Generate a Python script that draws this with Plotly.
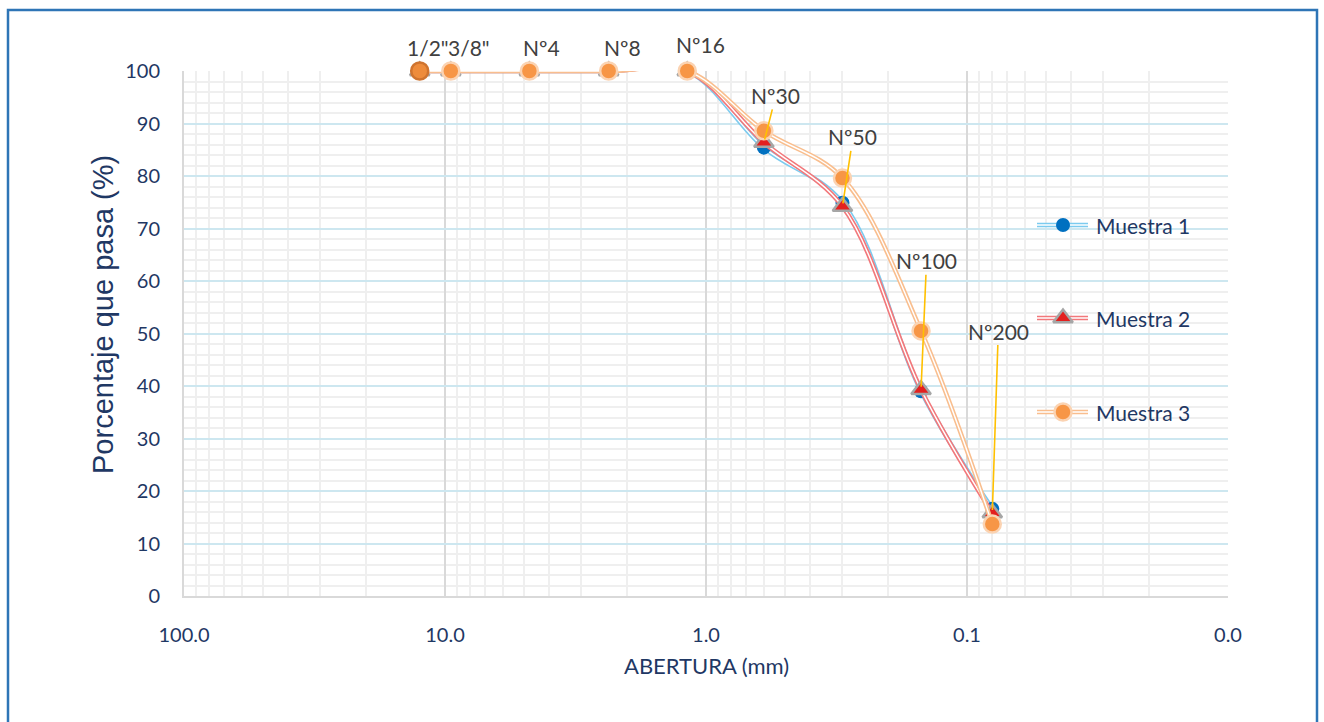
import numpy as np
import plotly.graph_objects as go

# Sieve openings (mm) and their names
sizes = [12.5, 9.5, 4.75, 2.36, 1.18, 0.6, 0.3, 0.15, 0.08]
sieves = ['1/2"', '3/8"', "Nº4", "Nº8", "Nº16", "Nº30", "Nº50", "Nº100", "Nº200"]

# Percent passing for each sample
muestra1 = [100, 100, 100, 100, 100, 85.4, 74.9, 39.0, 16.6]
muestra2 = [100, 100, 100, 100, 100, 86.4, 74.2, 39.3, 15.8]
muestra3 = [100, 100, 100, 100, 100, 88.6, 79.6, 50.5, 13.7]

# x-axis ticks
tick_vals = [100, 10, 1, 0.1, 0.01]
tick_text = ["100.0", "10.0", "1.0", "0.1", "0.0"]

NAVY = "#1F3864"
W, H = 1324, 722
L, R, T, B = 184, 1228, 71, 596  # plot area edges in pixels


def px(x):
    return (x - L) / (R - L)


def py(y):
    return (B - y) / (B - T)


fig = go.Figure()

series = [
    dict(name="Muestra 1", y=muestra1, line="#7CCBEF",
         marker=dict(symbol="circle", size=14, color="#0070C0",
                     line=dict(width=0))),
    dict(name="Muestra 2", y=muestra2, line="#F2787B",
         marker=dict(symbol="triangle-up", size=17, color="#E3201F",
                     line=dict(width=2.5, color="#A6A6A6"))),
    dict(name="Muestra 3", y=muestra3, line="#F9BE8E",
         marker=dict(symbol="circle", size=17,
                     color=["#EE8C3C"] + ["#F79646"] * 8,
                     line=dict(width=2.5,
                               color=["#CF7430"] + ["#FBD3B2"] * 8))),
]

# smoothed double lines, then markers, series by series
for s in series:
    fig.add_trace(go.Scatter(x=sizes, y=s["y"], mode="lines",
                             line=dict(color=s["line"], width=4.6, shape="spline", smoothing=1),
                             hoverinfo="skip", showlegend=False))
    fig.add_trace(go.Scatter(x=sizes, y=s["y"], mode="lines",
                             line=dict(color="white", width=1.4, shape="spline", smoothing=1),
                             hoverinfo="skip", showlegend=False))
    fig.add_trace(go.Scatter(x=sizes, y=s["y"], mode="markers", name=s["name"],
                             marker=s["marker"], showlegend=False, cliponaxis=False))

# legend drawn on an overlay axis in pixel units
leg_y = [225, 318, 412]
for s, yy in zip(series, leg_y):
    mk = dict(s["marker"])
    if isinstance(mk.get("color"), list):
        mk = dict(mk, color=mk["color"][-1],
                  line=dict(width=2.5, color=mk["line"]["color"][-1]))
    fig.add_trace(go.Scatter(x=[1037, 1088], y=[yy, yy], mode="lines", xaxis="x2", yaxis="y2",
                             line=dict(color=s["line"], width=4.6), showlegend=False, hoverinfo="skip"))
    fig.add_trace(go.Scatter(x=[1037, 1088], y=[yy, yy], mode="lines", xaxis="x2", yaxis="y2",
                             line=dict(color="white", width=1.4), showlegend=False, hoverinfo="skip"))
    fig.add_trace(go.Scatter(x=[1063], y=[yy], mode="markers", xaxis="x2", yaxis="y2",
                             marker=mk, showlegend=False, hoverinfo="skip"))
    fig.add_annotation(x=1094, y=yy, xref="x2", yref="y2", text=s["name"], showarrow=False,
                       xanchor="left", yanchor="middle",
                       font=dict(family="Lato", size=21, color=NAVY))

# sieve labels: the first five sit above the points, the rest use leader lines
label_font = dict(family="Lato", size=21, color="#404040")
shifts = [(8, 24), (18, 24), (12, 24), (14, 24), (13, 27)]
for i in range(5):
    fig.add_annotation(x=np.log10(sizes[i]), y=muestra2[i], text=sieves[i], showarrow=False,
                       xshift=shifts[i][0], yshift=shifts[i][1], font=label_font)
leaders = [(12, -47), (10.5, -69.5), (5.5, -129), (6, -182)]
for i, (ax, ay) in zip(range(5, 9), leaders):
    fig.add_annotation(x=np.log10(sizes[i]), y=muestra2[i], text=sieves[i], showarrow=True,
                       arrowhead=0, arrowwidth=1.6, arrowcolor="#FFC000", ax=ax, ay=ay,
                       standoff=3, font=label_font)

# axis titles
fig.add_annotation(x=px(103), y=py(315), xref="paper", yref="paper", text="Porcentaje que pasa (%)",
                   textangle=-90, showarrow=False, xanchor="center", yanchor="middle",
                   font=dict(family="Liberation Sans", size=29, color=NAVY))
fig.add_annotation(x=px(706), y=py(665), xref="paper", yref="paper", text="ABERTURA (mm)",
                   showarrow=False, xanchor="center", yanchor="middle",
                   font=dict(family="Lato", size=22, color=NAVY))

# outer frame
fig.add_shape(type="rect", xref="paper", yref="paper", x0=px(8), x1=px(1317), y0=py(740), y1=py(10),
              line=dict(color="#2E75B6", width=2.5), fillcolor="rgba(0,0,0,0)", layer="below")

fig.update_layout(
    width=W, height=H,
    margin=dict(l=L, r=W - R, t=T, b=H - B),
    paper_bgcolor="white", plot_bgcolor="white",
    showlegend=False,
    xaxis=dict(type="log", range=[2, -2], tickvals=tick_vals, ticktext=tick_text,
               showgrid=True, gridcolor="#D9D9D9", gridwidth=2,
               minor=dict(showgrid=True, gridcolor="#EFEFEF", gridwidth=2, dtick="D1", ticks=""),
               showline=True, linecolor="#D9D9D9", linewidth=2,
               ticks="outside", ticklen=20, tickcolor="rgba(0,0,0,0)",
               tickfont=dict(family="Lato", size=20, color=NAVY), zeroline=False),
    yaxis=dict(range=[0, 100], dtick=10, showgrid=True, gridcolor="#CDE7F0", gridwidth=1.6,
               minor=dict(showgrid=True, gridcolor="#EFEFEF", gridwidth=2, dtick=2, ticks=""),
               showline=True, linecolor="#D9D9D9", linewidth=2,
               ticks="outside", ticklen=18, tickcolor="rgba(0,0,0,0)",
               tickfont=dict(family="Lato", size=20, color=NAVY), zeroline=False),
    xaxis2=dict(overlaying="x", range=[L, R], visible=False, anchor="y2"),
    yaxis2=dict(overlaying="y", range=[B, T], visible=False, anchor="x2"),
)

fig.write_html("out.html")
